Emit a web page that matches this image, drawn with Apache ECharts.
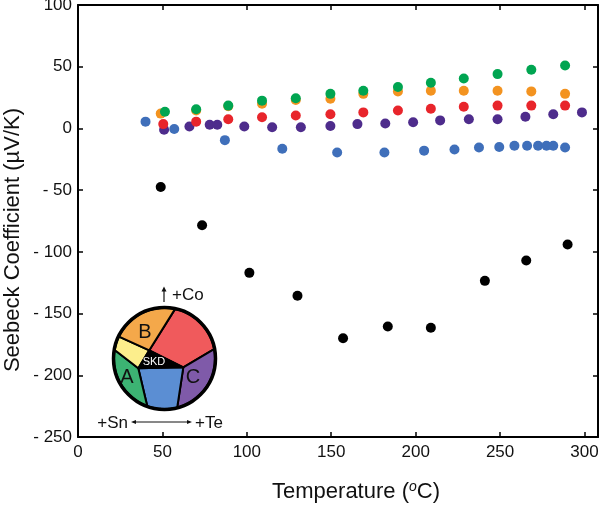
<!DOCTYPE html>
<html><head><meta charset="utf-8">
<script src="https://cdn.jsdelivr.net/npm/echarts@6/dist/echarts.min.js"></script>
<style>html,body{margin:0;padding:0;background:#fff}#c{width:600px;height:506px}</style>
</head><body><div id="c"></div>
<script>
// ---- data (temperature °C, Seebeck µV/K) ----
const xTicks = [0, 50, 100, 150, 200, 250, 300];
const yTicks = [100, 50, 0, -50, -100, -150, -200, -250];

const blueX   = [40, 57, 87, 121, 153.5, 181.5, 205, 223, 237.5, 249.5, 258.5, 266, 272.5, 277.5, 281.5, 288.5];
const blueY   = [5.5, -0.5, -9.5, -16.5, -19.5, -19.5, -18, -17, -15.5, -15, -14, -14, -14, -14, -14, -15.5];
const purpleX = [51, 66, 78, 82.5, 98.5, 115, 132, 149.5, 165.5, 182, 198.5, 214.5, 231.5, 248.5, 265, 281.5, 298.5];
const purpleY = [-1, 1.5, 3, 3, 1.5, 1, 1, 2, 3.5, 4, 5, 6.5, 7.5, 7.5, 9.5, 11.5, 13];
const redX    = [50.5, 70, 89, 109, 129, 149.5, 169, 189.5, 209, 228.5, 248.5, 268.5, 288.5];
const redY    = [3.5, 5.5, 7.5, 9, 10.5, 11.5, 13, 14.5, 16, 17.5, 18.5, 18.5, 18.5];
const orangeX = [49, 70, 89, 109, 129, 149.5, 169, 189.5, 209, 228.5, 248.5, 268.5, 288.5];
const orangeY = [12, 14.5, 18, 20, 23, 24, 28, 30, 30.5, 30.5, 30.5, 30, 28];
const greenX  = [51.5, 70, 89, 109, 129, 149.5, 169, 189.5, 209, 228.5, 248.5, 268.5, 288.5];
const greenY  = [13.5, 15.5, 18.5, 22.5, 24.5, 28, 30.5, 33.5, 37, 40.5, 44, 47.5, 51];
const blackX  = [49, 73.5, 101.5, 130, 157, 183.5, 209, 241, 265.5, 290];
const blackY  = [-47.5, -78.5, -117, -135.5, -170, -160.5, -161.5, -123.5, -107, -94];

const zip = (xs, ys) => xs.map((x, i) => [x, ys[i]]);
const FONT = 'Liberation Sans, Arial, Helvetica, sans-serif';

const series = [
  ['blue', blueX, blueY, '#3F6FBA'],
  ['purple', purpleX, purpleY, '#4E2C8C'],
  ['red', redX, redY, '#E8252B'],
  ['orange', orangeX, orangeY, '#F39320'],
  ['green', greenX, greenY, '#00A551'],
  ['black', blackX, blackY, '#000000']
].map(([n, xs, ys, c]) => ({
  name: n, type: 'scatter', data: zip(xs, ys), symbolSize: 10,
  itemStyle: {color: c, opacity: 1}, silent: true, z: 3
}));

// ---- inset diagram (decoration) ----
const C = [164.5, 358.5], R = 50.5;
function arc(a1, a2) {
  const pts = [], n = 24;
  for (let i = 0; i <= n; i++) {
    const a = (a1 + (a2 - a1) * i / n) * Math.PI / 180;
    pts.push([C[0] + R * Math.cos(a), C[1] + R * Math.sin(a)]);
  }
  return pts;
}
const rel = (dx, dy) => [C[0] + dx, C[1] + dy];
const Q1 = rel(-15.2, -8.2), Q2 = rel(18.8, 8.8), Q3 = rel(-26.2, 9.8);
const regions = [
  [arc(-78, -10.7).concat([Q2, Q1]), '#F05A5C'],
  [arc(-10.7, 75.4).concat([Q2]), '#7F5AA9'],
  [arc(75.4, 110).concat([Q3, Q2]), '#5B8ED3'],
  [arc(110, 189.6).concat([Q3]), '#3CB373'],
  [arc(189.6, 205.7).concat([Q1, Q3]), '#FCEE8C'],
  [arc(205.7, 282).concat([Q1]), '#F4A84A'],
  [[Q1, Q2, Q3], '#000000']
];
const graphic = regions.map(([pts, col]) => ({
  type: 'polygon', shape: {points: pts}, z: 10,
  style: {fill: col, stroke: '#000', lineWidth: 2, lineJoin: 'round'}
}));
graphic.push({type: 'circle', shape: {cx: C[0], cy: C[1], r: R + 0.5}, z: 11,
  style: {fill: 'none', stroke: '#000', lineWidth: 3.5}});
const txt = (s, x, y, size, col, align) => ({
  type: 'text', z: 12, x: x, y: y,
  style: {text: s, fill: col || '#111', font: size + 'px ' + FONT, align: align || 'center', verticalAlign: 'middle'}
});
graphic.push(txt('B', 145, 332, 20));
graphic.push(txt('A', 127, 377, 20));
graphic.push(txt('C', 193, 377, 20));
graphic.push(txt('SKD', 154, 362, 11, '#fff'));
graphic.push(txt('+Co', 172, 295, 17, '#111', 'left'));
graphic.push({type: 'line', z: 12, shape: {x1: 164, y1: 302, x2: 164, y2: 290}, style: {stroke: '#111', lineWidth: 1.2}});
graphic.push({type: 'polygon', z: 12, shape: {points: [[161.5, 291.5], [166.5, 291.5], [164, 286.5]]}, style: {fill: '#111'}});
graphic.push(txt('+Sn', 128, 423, 17, '#111', 'right'));
graphic.push(txt('+Te', 195, 423, 17, '#111', 'left'));
graphic.push({type: 'line', z: 12, shape: {x1: 134, y1: 422, x2: 189, y2: 422}, style: {stroke: '#111', lineWidth: 1}});
graphic.push({type: 'polygon', z: 12, shape: {points: [[131, 422], [136, 420], [136, 424]]}, style: {fill: '#111'}});
graphic.push({type: 'polygon', z: 12, shape: {points: [[192, 422], [187, 420], [187, 424]]}, style: {fill: '#111'}});
// y axis title
graphic.push({type: 'text', z: 12, x: 13, y: 240, rotation: Math.PI / 2,
  style: {text: 'Seebeck Coefficient (µV/K)', fill: '#111', font: '22px ' + FONT, align: 'center', verticalAlign: 'middle'}});

const axisLine = {show: true, onZero: false, lineStyle: {color: '#000', width: 2}};
const tick = {show: true, inside: true, length: 5, lineStyle: {color: '#000', width: 1.5}};
const fmtY = v => v < 0 ? '- ' + Math.abs(v) : String(v);

const chart = echarts.init(document.getElementById('c'), null, {renderer: 'canvas'});
chart.setOption({
  animation: false,
  backgroundColor: '#fff',
  textStyle: {fontFamily: FONT},
  grid: {left: 78, right: 2, top: 5, height: 432, containLabel: false, outerBoundsMode: 'none'},
  xAxis: [{
    type: 'value', min: xTicks[0], max: 308, interval: 50, position: 'bottom',
    axisLine, axisTick: tick, splitLine: {show: false},
    axisLabel: {fontSize: 17, color: '#111', margin: 7, showMaxLabel: false, fontFamily: FONT},
    name: 'Temperature ({s|o}C)', nameLocation: 'middle', nameGap: 43,
    nameTextStyle: {fontSize: 22, color: '#111', fontFamily: FONT, padding: [0, 0, 0, 36],
      rich: {s: {fontSize: 14, fontStyle: 'italic', color: '#111', fontFamily: FONT, padding: [0, 0, 9, 0]}}}
  }, {
    type: 'value', min: xTicks[0], max: 308, interval: 50, position: 'top',
    axisLine, axisTick: tick, axisLabel: {show: false}, splitLine: {show: false}
  }],
  yAxis: [{
    type: 'value', min: yTicks[yTicks.length - 1], max: yTicks[0], interval: 50, position: 'left',
    axisLine, axisTick: tick, splitLine: {show: false},
    axisLabel: {fontSize: 17, color: '#111', margin: 6, formatter: fmtY, fontFamily: FONT}
  }, {
    type: 'value', min: yTicks[yTicks.length - 1], max: yTicks[0], interval: 50, position: 'right',
    axisLine, axisTick: tick, axisLabel: {show: false}, splitLine: {show: false}
  }],
  series,
  graphic
});
</script></body></html>
